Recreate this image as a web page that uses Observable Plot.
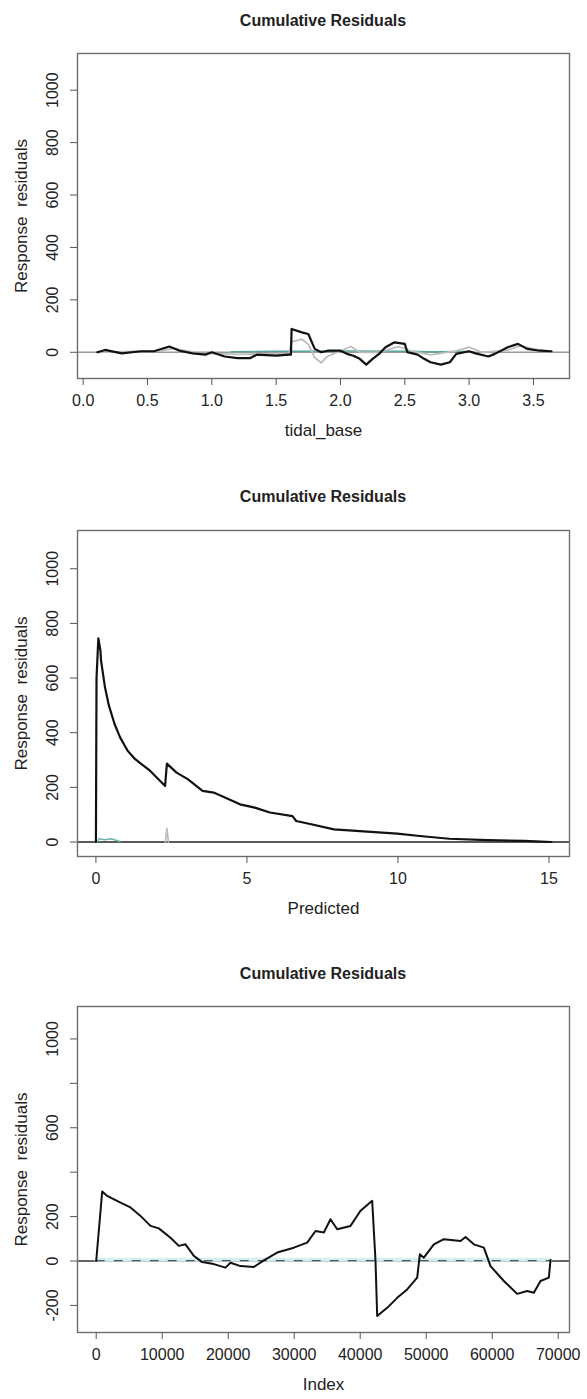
<!DOCTYPE html>
<html>
<head>
<meta charset="utf-8">
<script src="https://cdn.jsdelivr.net/npm/d3@7"></script>
<script src="https://cdn.jsdelivr.net/npm/@observablehq/plot@0.6"></script>
<style>
  html, body { margin: 0; padding: 0; background: #fff; }
  #root { width: 587px; position: relative; }
  .panel { position: relative; width: 587px; overflow: hidden; }
  .panel svg { display: block; }
  .title { position: absolute; left: 323px; transform: translateX(-50%); top: 11px;
           font: bold 16px "Liberation Sans", Arial, sans-serif; color: #222; white-space: nowrap; line-height: 20px; }
</style>
</head>
<body>
<div id="root"></div>
<script>
// ---------- Panel 1: tidal_base ----------
const tidalX = [0.11,0.17,0.3,0.45,0.55,0.67,0.75,0.85,0.95,1.0,1.1,1.2,1.3,1.35,1.5,1.6,1.615,1.62,1.7,1.75,1.8,1.85,1.9,2.0,2.05,2.1,2.15,2.2,2.25,2.3,2.35,2.42,2.5,2.52,2.6,2.65,2.7,2.78,2.85,2.9,3.0,3.05,3.15,3.2,3.3,3.38,3.45,3.55,3.64];
const tidalY = [0,9,-4,4,4,22,6,-4,-9,0,-16,-22,-22,-9,-13,-9,-9,89,76,70,13,0,6,6,-6,-13,-25,-47,-25,-6,19,38,32,0,-9,-25,-38,-47,-38,-6,4,-4,-16,-6,19,32,13,6,4];
const tidalSimX = [0.11,0.3,0.6,0.7,0.9,1.2,1.5,1.6,1.62,1.7,1.75,1.8,1.85,1.9,2.0,2.08,2.15,2.3,2.45,2.55,2.7,2.9,3.0,3.1,3.3,3.4,3.5,3.64];
const tidalSimY = [0,2,5,15,-3,-8,-5,-5,40,50,30,-20,-40,-15,5,22,0,0,22,5,-10,5,20,0,8,25,12,3];
const tidalTealX = [1.15,1.5,1.62,2.0,2.5,2.7,3.0];
const tidalTealY = [2,4,4,5,4,2,3];
const tidalXTicks = [0,0.5,1,1.5,2,2.5,3,3.5];
const tidalYTicks = [0,200,400,600,800,1000];
const tidalYLabels = [0,200,400,600,800,1000];

// ---------- Panel 2: Predicted ----------
const predX = [0,0.02,0.08,0.15,0.17,0.3,0.43,0.62,0.8,1.05,1.3,1.8,2.29,2.35,2.67,3.04,3.53,3.9,4.27,4.77,5.26,5.76,6.51,6.63,7.13,7.88,8.74,9.98,10.72,11.7,12.96,14.2,15.08];
const predY = [0,600,745,700,664,566,499,431,383,334,303,260,205,287,254,230,187,181,163,138,126,108,95,77,65,46,40,31,22,12,7,4,0];
const predSimX = [2.3,2.35,2.4];
const predSimY = [0,50,0];
const predTealX = [0.05,0.1,0.3,0.5,0.8];
const predTealY = [0,12,8,12,2];
const predXTicks = [0,5,10,15];
const predYTicks = [0,200,400,600,800,1000];
const predYLabels = [0,200,400,600,800,1000];

// ---------- Panel 3: Index ----------
const indexX = [0,909,1667,3682,5197,6712,8227,9490,11258,12520,13530,14793,16055,17823,19591,20348,21864,23884,25400,27420,29946,31966,33229,34491,35502,36512,38532,40047,41815,42320,42572,44087,45602,47117,48633,49037,49643,51158,52673,55199,55957,57219,58734,59745,61765,63785,65300,66311,67321,68584,68836];
const indexY = [0,313,293,263,241,203,158,147,105,68,75,23,-5,-14,-30,-8,-23,-27,3,38,60,83,135,128,188,143,158,226,271,0,-248,-211,-166,-128,-75,30,15,75,98,90,108,75,60,-23,-90,-148,-135,-143,-90,-75,5];
const indexTealX = [0,68836];
const indexTealY = [6,6];
const indexXTicks = [0,10000,20000,30000,40000,50000,60000,70000];
const indexYTicks = [-200,0,200,400,600,800,1000];
const indexYLabels = [-200,0,200,600,1000];

const zip = (xs, ys) => xs.map((x, i) => ({x, y: ys[i]}));
const FONT = '"Liberation Sans", Arial, sans-serif';

function panel(cfg) {
  const marks = [
    Plot.ruleY([0], {stroke: cfg.zeroColor, strokeWidth: 1.4}),
  ];
  if (cfg.teal) marks.push(Plot.line(cfg.teal, {x: "x", y: "y", stroke: cfg.tealColor, strokeWidth: cfg.tealWidth}));
  if (cfg.dash) marks.push(Plot.line(cfg.dash, {x: "x", y: "y", stroke: "#555", strokeWidth: 1.2, strokeDasharray: "8,10"}));
  if (cfg.sim) marks.push(Plot.line(cfg.sim, {x: "x", y: "y", stroke: "#bdbdbd", strokeWidth: 1.8}));
  marks.push(Plot.line(cfg.main, {x: "x", y: "y", stroke: "#111", strokeWidth: cfg.mainWidth || 2.2}));
  marks.push(Plot.frame({stroke: "#6e6e6e", strokeWidth: 1.4}));
  marks.push(Plot.axisX({ticks: cfg.xTicks, tickSize: 7, tickPadding: 9, fontSize: 16, tickFormat: cfg.xFormat, label: null, stroke: "#555"}));
  marks.push(Plot.axisY({ticks: cfg.yTicks, tickSize: 7, tickFormat: () => "", label: null, stroke: "#555"}));
  marks.push(Plot.text(cfg.yLabels, {y: d => d, text: d => String(d), frameAnchor: "left", textAnchor: "middle", dx: -25, rotate: -90, fontSize: 16, fill: "#222"}));
  marks.push(Plot.text([cfg.xLabel], {frameAnchor: "bottom", dy: 57, fontSize: 17, fill: "#222"}));
  marks.push(Plot.text(["Response\u00a0\u00a0residuals"], {frameAnchor: "left", textAnchor: "middle", dx: -56, rotate: -90, fontSize: 17, fill: "#222"}));

  const chart = Plot.plot({
    width: 587,
    height: cfg.height,
    marginLeft: 77,
    marginRight: 18,
    marginTop: cfg.marginTop,
    marginBottom: cfg.marginBottom,
    x: {domain: cfg.xDomain},
    y: {domain: cfg.yDomain},
    style: {fontFamily: FONT, background: "white", color: "#222"},
    marks
  });
  const div = document.createElement("div");
  div.className = "panel";
  div.style.height = cfg.height + "px";
  const t = document.createElement("div");
  t.className = "title";
  t.textContent = "Cumulative Residuals";
  div.appendChild(chart);
  div.appendChild(t);
  document.getElementById("root").appendChild(div);
}

panel({
  height: 476, marginTop: 53, marginBottom: 98,
  xDomain: [-0.044, 3.78], yDomain: [-100, 1140],
  xTicks: tidalXTicks, xFormat: d3.format(".1f"),
  yTicks: tidalYTicks, yLabels: tidalYLabels,
  xLabel: "tidal_base",
  main: zip(tidalX, tidalY), sim: zip(tidalSimX, tidalSimY),
  teal: zip(tidalTealX, tidalTealY), tealColor: "#5aa69c", tealWidth: 1.5,
  zeroColor: "#999"
});
panel({
  height: 477, marginTop: 54, marginBottom: 97,
  xDomain: [-0.61, 15.68], yDomain: [-53, 1140],
  xTicks: predXTicks, xFormat: d => String(d),
  yTicks: predYTicks, yLabels: predYLabels,
  xLabel: "Predicted",
  main: zip(predX, predY), sim: zip(predSimX, predSimY),
  teal: zip(predTealX, predTealY), tealColor: "#6fb3aa", tealWidth: 1.5,
  zeroColor: "#222"
});
panel({
  height: 446, marginTop: 53, marginBottom: 67,
  xDomain: [-2833, 71712], yDomain: [-322, 1146],
  xTicks: indexXTicks, xFormat: d => String(d),
  yTicks: indexYTicks, yLabels: indexYLabels,
  xLabel: "Index",
  main: zip(indexX, indexY), mainWidth: 2,
  teal: zip(indexTealX, indexTealY), tealColor: "#d3efef", tealWidth: 4,
  dash: zip(indexTealX, [2, 2]),
  zeroColor: "#333"
});
</script>
</body>
</html>
